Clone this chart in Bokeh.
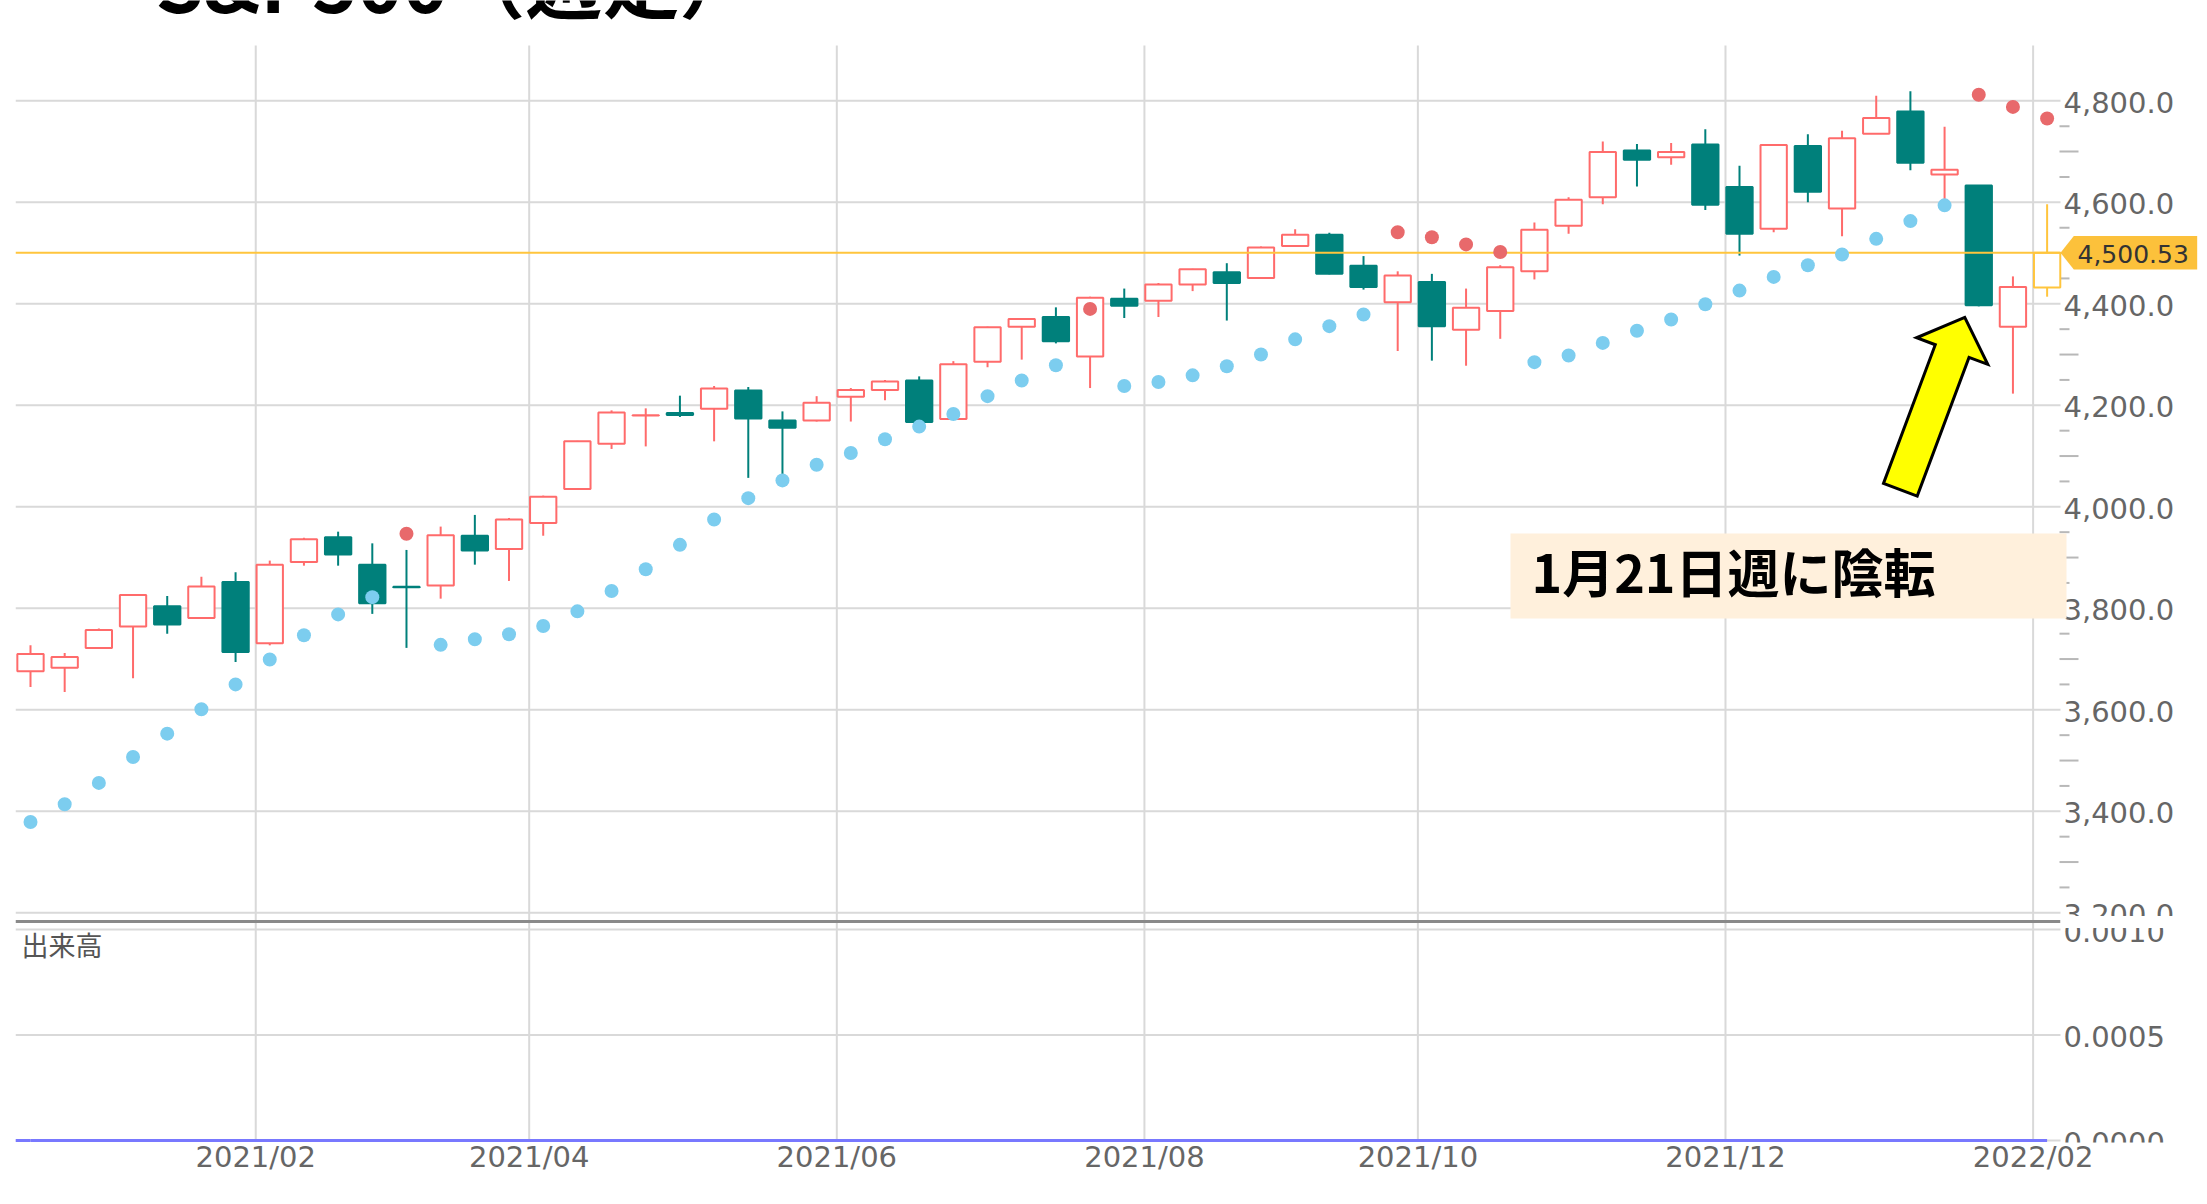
import math
import datetime as dt
from bokeh.plotting import figure
from bokeh.models import Range1d, FixedTicker
from bokeh.core.properties import value
from bokeh.embed import file_html
from bokeh.resources import INLINE

# ---------------- data ----------------
week_ending = [
    "2020-12-18", "2020-12-24", "2020-12-31", "2021-01-08", "2021-01-15", "2021-01-22",
    "2021-01-29", "2021-02-05", "2021-02-12", "2021-02-19", "2021-02-26", "2021-03-05",
    "2021-03-12", "2021-03-19", "2021-03-26", "2021-04-01", "2021-04-09", "2021-04-16",
    "2021-04-23", "2021-04-30", "2021-05-07", "2021-05-14", "2021-05-21", "2021-05-28",
    "2021-06-04", "2021-06-11", "2021-06-18", "2021-06-25", "2021-07-02", "2021-07-09",
    "2021-07-16", "2021-07-23", "2021-07-30", "2021-08-06", "2021-08-13", "2021-08-20",
    "2021-08-27", "2021-09-03", "2021-09-10", "2021-09-17", "2021-09-24", "2021-10-01",
    "2021-10-08", "2021-10-15", "2021-10-22", "2021-10-29", "2021-11-05", "2021-11-12",
    "2021-11-19", "2021-11-26", "2021-12-03", "2021-12-10", "2021-12-17", "2021-12-23",
    "2021-12-31", "2022-01-07", "2022-01-14", "2022-01-21", "2022-01-28", "2022-02-04",
]
open_ = [
    3676, 3683, 3722, 3764, 3804, 3781, 3852, 3731, 3891, 3940, 3886, 3842.5,
    3845, 3943, 3917, 3968, 4035, 4124, 4179.8, 4185, 4193, 4229, 4170, 4170,
    4217, 4230, 4249, 4173, 4286, 4355, 4374, 4296, 4410, 4406, 4438, 4462,
    4451, 4514, 4536, 4475, 4403, 4443, 4349, 4386, 4464, 4554, 4610, 4702,
    4689, 4714, 4630, 4548, 4711, 4588, 4735, 4779, 4655, 4633, 4355, 4432,
]
high = [
    3727, 3712, 3760, 3828, 3824, 3862, 3871, 3894, 3939, 3951, 3928, 3915,
    3961, 3984, 3978, 4022, 4130, 4190, 4194, 4219, 4238, 4236, 4188, 4218,
    4234, 4250, 4257, 4287, 4355, 4372, 4393, 4414, 4430, 4441, 4469, 4480,
    4513, 4547, 4540, 4494, 4464, 4459, 4430, 4476, 4560, 4610, 4720, 4715,
    4717, 4744, 4672, 4713, 4734, 4741, 4810, 4819, 4749, 4633, 4454, 4596,
]
low = [
    3645, 3635, 3722, 3662, 3750, 3781, 3694, 3727, 3884, 3884, 3789, 3722,
    3819, 3886, 3854, 3943, 4034, 4114, 4119, 4177, 4129, 4057, 4058, 4168,
    4168, 4210, 4166, 4173, 4275, 4290, 4322, 4234, 4372, 4374, 4425, 4367,
    4451, 4513, 4458, 4428, 4307, 4288, 4278, 4331, 4448, 4538, 4596, 4631,
    4674, 4585, 4495, 4541, 4600, 4533, 4735, 4663, 4590, 4395, 4223, 4414,
]
close = [
    3710, 3704, 3757, 3826, 3768, 3843, 3714, 3886, 3936, 3906, 3810, 3841.5,
    3944, 3914, 3975, 4020, 4129, 4186, 4180.2, 4181, 4233, 4174, 4156, 4205,
    4230, 4247, 4167, 4281, 4354, 4370, 4326, 4412, 4396, 4438, 4468, 4441,
    4511, 4536, 4459, 4433, 4456, 4356, 4392, 4472, 4546, 4605, 4699, 4684,
    4699, 4595, 4538, 4713, 4621, 4726, 4766, 4678, 4664, 4397, 4433, 4500.53,
]
# parabolic SAR dots, and on which side of price they sit
sar = [
    3379, 3414, 3456, 3507, 3553, 3601, 3650, 3699, 3747, 3788, 3822, 3947,
    3728, 3739, 3749, 3765, 3794, 3834, 3877, 3925, 3975, 4017, 4052, 4083,
    4106, 4133, 4158, 4183, 4218, 4249, 4279, 4390, 4238, 4246, 4259, 4277,
    4300, 4330, 4356, 4379, 4541, 4531, 4517, 4502, 4285, 4298, 4323, 4347,
    4369, 4399, 4426, 4453, 4476, 4497, 4528, 4563, 4594, 4812, 4788, 4765,
]
sar_side = [
    "below", "below", "below", "below", "below", "below", "below", "below", "below", "below", "below", "above",
    "below", "below", "below", "below", "below", "below", "below", "below", "below", "below", "below", "below",
    "below", "below", "below", "below", "below", "below", "below", "above", "below", "below", "below", "below",
    "below", "below", "below", "below", "above", "above", "above", "above", "below", "below", "below", "below",
    "below", "below", "below", "below", "below", "below", "below", "below", "below", "above", "above", "above",
]
volume = [
    0, 0, 0, 0, 0, 0, 0, 0, 0, 0, 0, 0, 0, 0, 0, 0, 0, 0, 0, 0,
    0, 0, 0, 0, 0, 0, 0, 0, 0, 0, 0, 0, 0, 0, 0, 0, 0, 0, 0, 0,
    0, 0, 0, 0, 0, 0, 0, 0, 0, 0, 0, 0, 0, 0, 0, 0, 0, 0, 0, 0,
]
last_price = 4500.53
price_ticks = [3200, 3400, 3600, 3800, 4000, 4200, 4400, 4600, 4800]
volume_ticks = [0.0, 0.0005, 0.0010]
title_text = "S&P500（週足）"
volume_title = "出来高"
note_text = "1月21日週に陰転"
note_week = "2022-01-21"

# ---------------- layout (reference pixel geometry) ----------------
PAGE = 0
W, H = 2207, 1190
CANDLE0_X, STEP = 30.0, 34.18
PRICE_REF, PRICE_REF_Y, PX_PER_PT = 4800.0, 100.3, 0.5075
VOL_ZERO_Y, PX_PER_VOL = 1140.0, 211000.0
PLOT_L, PLOT_R = 15, 2060
FRAME_T, FRAME_B, FRAME_R = 0, 1142, 2207
PANE_TOP = 45
PRICE_PANE_B, VOL_PANE_T, SEP_Y = 915.5, 927.5, 921


def xd(px):
    return (px - CANDLE0_X) / STEP


def yd(py):
    return PRICE_REF - (py - PRICE_REF_Y) / PX_PER_PT


def vd(py):
    return (VOL_ZERO_Y - py) / PX_PER_VOL


RED, TEAL, CUR = "#ff6b6b", "#00807b", "#ffc53d"
GRID = "#d9d9d9"
LABEL = "#666666"
SCALE_FONT = "29px"

p = figure(width=W, height=H, output_backend="svg", toolbar_location=None, title=None,
           x_range=Range1d(xd(PLOT_L), xd(FRAME_R)),
           y_range=Range1d(yd(FRAME_B), yd(FRAME_T)),
           y_axis_location=None,
           min_border_left=PLOT_L - PAGE, min_border_right=0, min_border_top=0,
           min_border_bottom=H - (FRAME_B - PAGE),
           background_fill_color="white", border_fill_color="white",
           outline_line_color=None)
p.extra_y_ranges = {"vol": Range1d(vd(FRAME_B), vd(FRAME_T))}
p.xgrid.visible = False
p.ygrid.visible = False

n = len(close)
xs = list(range(n))
dates = [dt.date.fromisoformat(s) for s in week_ending]
month_ticks, month_labels = [], []
for i in range(1, n):
    if dates[i].month != dates[i - 1].month and dates[i].month % 2 == 0:
        month_ticks.append(i - 0.41)
        month_labels.append(f"{dates[i].year}/{dates[i].month:02d}")

ax = p.xaxis[0]
ax.ticker = FixedTicker(ticks=month_ticks)
ax.major_label_overrides = {t: s for t, s in zip(month_ticks, month_labels)}
ax.axis_line_color = None
ax.major_tick_line_color = None
ax.minor_tick_line_color = None
ax.major_tick_out = 0
ax.major_tick_in = 0
ax.major_label_standoff = -3
ax.major_label_text_font = "DejaVu Sans"
ax.major_label_text_font_size = SCALE_FONT
ax.major_label_text_color = LABEL

# grid lines
p.segment(x0=month_ticks, x1=month_ticks, y0=yd(PANE_TOP), y1=yd(VOL_ZERO_Y),
          line_color=GRID, line_width=2)
p.segment(x0=xd(PLOT_L), x1=xd(PLOT_R), y0=price_ticks, y1=price_ticks,
          line_color=GRID, line_width=2)
p.segment(x0=xd(PLOT_L), x1=xd(PLOT_R), y0=volume_ticks, y1=volume_ticks,
          line_color=GRID, line_width=2, y_range_name="vol")
p.segment(x0=xd(PLOT_L), x1=xd(PLOT_R), y0=yd(SEP_Y), y1=yd(SEP_Y),
          line_color="#8a8a8a", line_width=3)

# minor ticks of the price scale
minor_long, minor_short = [], []
for v in range(price_ticks[0] + 50, price_ticks[-1], 50):
    if v % 200 == 0:
        continue
    (minor_long if v % 100 == 0 else minor_short).append(v)
p.segment(x0=xd(PLOT_R - 1), x1=xd(2078), y0=minor_long, y1=minor_long,
          line_color="#b8b8b8", line_width=2)
p.segment(x0=xd(PLOT_R - 1), x1=xd(2069), y0=minor_short, y1=minor_short,
          line_color="#b8b8b8", line_width=2)

# candles
line_cols, fill_cols, tops, bots = [], [], [], []
for i in range(n):
    up = close[i] >= open_[i]
    if i == n - 1:
        c, f = CUR, "white"
    elif up:
        c, f = RED, "white"
    else:
        c, f = TEAL, TEAL
    line_cols.append(c)
    fill_cols.append(f)
    tops.append(max(open_[i], close[i]))
    bots.append(min(open_[i], close[i]))
p.segment(x0=xs, x1=xs, y0=low, y1=high, line_color=line_cols, line_width=2)
p.vbar(x=xs, width=0.77, top=tops, bottom=bots, fill_color=fill_cols,
       line_color=line_cols, line_width=2)

# volume (all zero)
p.segment(x0=xd(PLOT_L), x1=0, y0=volume[0], y1=volume[0], line_color="#7878ff",
          line_width=3, y_range_name="vol")
p.line(xs, volume, line_color="#7878ff", line_width=3, y_range_name="vol")

# current price line
p.segment(x0=xd(PLOT_L), x1=xd(PLOT_R), y0=last_price, y1=last_price,
          line_color=CUR, line_width=2)

# SAR dots
sar_cols = ["#7ccdef" if s == "below" else "#e8696b" for s in sar_side]
p.scatter(xs, sar, size=14, fill_color=sar_cols, line_color=None)

# price tag
tag = [(0, 0), (13.3, -16.7), (136.7, -16.7), (136.7, 16.6), (13.3, 16.6)]
p.patch([xd(PLOT_R + dx) for dx, dy in tag], [last_price - dy / PX_PER_PT for dx, dy in tag],
        fill_color="#fcc13b", line_color=None)
p.text(x=[xd(2077)], y=[last_price], text=[f"{last_price:,.2f}"], text_baseline="middle",
       text_align="left", text_font=value("DejaVu Sans"), text_font_size="25px",
       text_color="#333333", y_offset=1)

# right scale labels
p.text(x=xd(2063), y=price_ticks, text=[f"{v:,.1f}" for v in price_ticks],
       text_baseline="middle", text_align="left", text_font=value("DejaVu Sans"),
       text_font_size=SCALE_FONT, text_color=LABEL, y_offset=1.5)
p.text(x=xd(2063), y=volume_ticks, text=[f"{v:.4f}" for v in volume_ticks],
       text_baseline="middle", text_align="left", text_font=value("DejaVu Sans"),
       text_font_size=SCALE_FONT, text_color=LABEL, y_offset=1.5, y_range_name="vol")
# pane clipping of the scale labels
p.quad(left=xd(PLOT_R), right=xd(FRAME_R + 2), top=yd(PRICE_PANE_B), bottom=yd(VOL_PANE_T),
       fill_color="white", line_color=None)

p.text(x=[xd(21)], y=[yd(943.5)], text=[volume_title], text_baseline="middle",
       text_font=value("Noto Sans CJK JP"), text_font_size="27px", text_color="#555555")

# annotation box
p.quad(left=xd(1510), right=xd(2066), top=yd(533), bottom=yd(618),
       fill_color="#fff0dc", line_color=None)
p.text(x=[xd(1531)], y=[yd(570)], text=[note_text], text_baseline="middle",
       text_font=value("Noto Sans CJK JP"), text_font_style="bold",
       text_font_size="52px", text_color="black")

# arrow pointing at the reversal week
k = week_ending.index(note_week)
tip_x = CANDLE0_X + (k - 0.41) * STEP
tip_y = PRICE_REF_Y + (PRICE_REF - close[k]) * PX_PER_PT + 12
ux, uy = -0.35, 0.937
nx, ny = 0.937, 0.35
shape = [(0, 0), (36, 38), (36, 18), (184, 18), (184, -18), (36, -18), (36, -38)]
p.patch([xd(tip_x + a * ux + b * nx) for a, b in shape],
        [yd(tip_y + a * uy + b * ny) for a, b in shape],
        fill_color="#ffff00", line_color="black", line_width=3, line_join="miter")

# title (cut off by the top edge, as in the source image)
p.text(x=[xd(155)], y=[yd(-21)], text=[title_text], text_baseline="alphabetic",
       text_font=value("Noto Sans CJK JP"), text_font_style="bold",
       text_font_size="77px", text_color="black")

open("out.html", "w").write(file_html(p, INLINE))
